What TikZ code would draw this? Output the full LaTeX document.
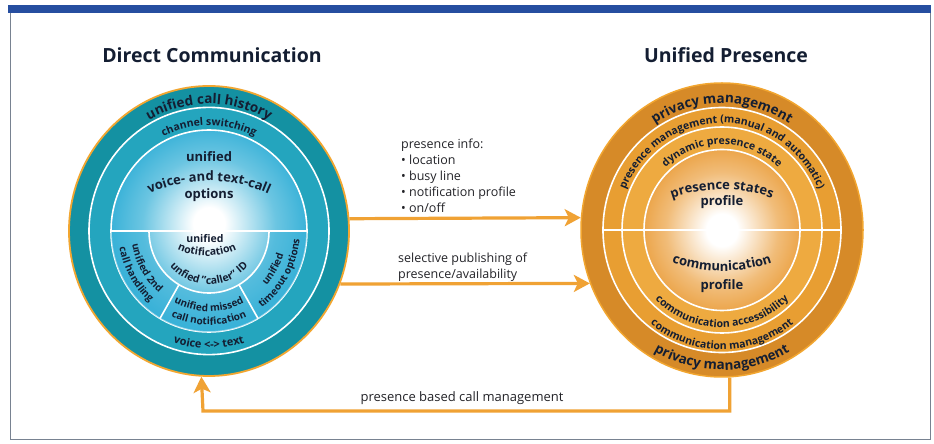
\documentclass[tikz,border=0pt]{standalone}
\usepackage{fontspec}
\setmainfont{Open Sans}
\usetikzlibrary{shapes.geometric,decorations.text,arrows.meta,calc}
\definecolor{navy}{RGB}{20,30,50}
\definecolor{tealA}{RGB}{20,145,162}
\definecolor{tealB}{RGB}{36,165,190}
\definecolor{cyanL}{RGB}{58,178,216}
\colorlet{cyanM}{cyanL!75!white}
\definecolor{orA}{RGB}{214,138,40}
\definecolor{orB}{RGB}{232,158,50}
\definecolor{orC}{RGB}{238,170,64}
\definecolor{orD}{RGB}{236,166,76}
\colorlet{orM}{orD!75!white}
\definecolor{orEdge}{RGB}{242,166,48}
\definecolor{arrowc}{RGB}{240,162,52}
\definecolor{bandblue}{RGB}{38,78,160}
\definecolor{framec}{RGB}{120,130,145}
\definecolor{midtext}{RGB}{35,35,40}
\pgfdeclareradialshading{glowL}{\pgfpoint{0bp}{2bp}}{color(0bp)=(white); color(4bp)=(white); color(17bp)=(cyanM); color(25bp)=(cyanL); color(50bp)=(cyanL)}
\pgfdeclareradialshading{glowR}{\pgfpoint{0bp}{0bp}}{color(0bp)=(white); color(5bp)=(white); color(18bp)=(orM); color(25bp)=(orD); color(50bp)=(orD)}
\newcommand{\fntS}{\fontsize{10}{12}\selectfont\bfseries}
\newcommand{\fntM}{\fontsize{10.5}{12}\selectfont\bfseries}
\newcommand{\fntL}{\fontsize{13}{15}\selectfont\bfseries}
\newcommand{\fntXL}{\fontsize{13.5}{15}\selectfont\bfseries}
\newcommand{\arcTxt}[7]{\path[shift={(#1)},decorate,decoration={text along path,text align=center,text color=navy,text={|#6|#7}}] (#2:#4 and #5) arc[start angle=#2,end angle=#3,x radius=#4,y radius=#5];}
\begin{document}
\begin{tikzpicture}[x=1pt,y=1pt,
  wline/.style={draw=white,line width=1.6pt},
  arr/.style={draw=arrowc,line width=3.2pt,-{Stealth[length=16pt,width=17pt,inset=4pt]}},
  title/.style={font=\fontsize{19.5}{22}\selectfont\bfseries,text=navy,inner sep=0pt},
  mid/.style={font=\fontsize{12.5}{16}\selectfont,text=midtext,align=left,inner sep=0pt},
  ctr/.style={font=\fntL,text=navy,inner sep=0pt,anchor=base},
  sml/.style={font=\fntM,text=navy,inner sep=0pt,anchor=base}]
\useasboundingbox (0,0) rectangle (934,444);
\fill[white] (0,0) rectangle (934,444);
% frame
\draw[framec,line width=1pt] (10,431) -- (10,4) -- (930,4) -- (930,431);
\fill[bandblue] (8,431) rectangle (931,439);
% titles
\node[title,anchor=base] (t1) at (212,381) {Direct Communication};
\node[title,anchor=base] (t2) at (726,381) {Unified Presence};
\coordinate (CL) at (209,213);
\coordinate (CR) at (722,214);
% ---------- left circle
\node[ellipse,draw=orEdge,line width=1.8pt,fill=tealA,minimum width=280pt,minimum height=290pt,inner sep=0pt] (L) at (CL) {};
\filldraw[fill=tealB,wline] (CL) ellipse[x radius=120,y radius=123.6];
\path[shade,shading=glowL,wline] (CL) ellipse[x radius=98,y radius=101];
\fill[cyanL,opacity=.45] ($(CL)+(180:98 and 101)$) arc[start angle=180,end angle=360,x radius=98,y radius=101] -- ($(CL)+(0:60 and 62)$) arc[start angle=0,end angle=-180,x radius=60,y radius=62] -- cycle;
\draw[wline] ($(CL)+(-98,0)$) -- ($(CL)+(98,0)$);
\draw[wline] ($(CL)+(180:60 and 62)$) arc[start angle=180,end angle=360,x radius=60,y radius=62];
\draw[wline] ($(CL)+(240:60 and 62)$) -- ($(CL)+(240:98 and 101)$);
\draw[wline] ($(CL)+(300:60 and 62)$) -- ($(CL)+(300:98 and 101)$);
\arcTxt{CL}{160}{20}{123}{127}{\fntXL}{unified call history}
\arcTxt{CL}{160}{20}{102.5}{105.5}{\fntM}{channel switching}
\arcTxt{CL}{200}{340}{114}{117.5}{\fontsize{11}{12}\selectfont\bfseries}{voice <-> text}
\coordinate (VT) at (209,119);
\arcTxt{VT}{125}{55}{144}{144}{\fntL}{voice- and text-call}
\node[ctr] (u1) at (209,282) {unified};
\node[ctr] (o1) at (209,245) {options};
\node[sml] (u2) at (205,201) {unified};
\coordinate (NT) at (207,258);
\arcTxt{NT}{235}{305}{70}{70}{\fntM}{notification}
\arcTxt{CL}{200}{340}{52}{53.5}{\fntM}{unfied "caller" ID}
\arcTxt{CL}{180}{240}{78}{80.5}{\fntS}{unified 2nd}
\arcTxt{CL}{180}{240}{91}{94}{\fntS}{call handling}
\arcTxt{CL}{240}{300}{78}{80.5}{\fntS}{unified missed}
\arcTxt{CL}{240}{300}{91}{94}{\fntS}{call notification}
\arcTxt{CL}{300}{360}{78}{80.5}{\fntS}{unified}
\arcTxt{CL}{300}{360}{91}{94}{\fntS}{timeout options}
% ---------- right circle
\node[ellipse,draw=orEdge,line width=1.5pt,fill=orA,minimum width=282pt,minimum height=294pt,inner sep=0pt] (R) at (CR) {};
\filldraw[fill=orB,wline] (CR) ellipse[x radius=119,y radius=122.5];
\filldraw[fill=orC,wline] (CR) ellipse[x radius=100,y radius=103];
\path[shade,shading=glowR,wline] (CR) ellipse[x radius=78,y radius=80.5];
\draw[wline] ($(CR)+(-119,0)$) -- ($(CR)+(119,0)$);
\arcTxt{CR}{165}{15}{123}{127}{\fntXL}{privacy management}
\arcTxt{CR}{168}{12}{104}{107}{\fntM}{presence management (manual and automatic)}
\arcTxt{CR}{160}{20}{83}{85.5}{\fntM}{dynamic presence state}
\coordinate (PS) at (722,104.5);
\arcTxt{PS}{115}{65}{150}{150}{\fntL}{presence states}
\node[ctr] (p1) at (722,238.5) {profile};
\coordinate (CM) at (722,323);
\arcTxt{CM}{245}{295}{150}{150}{\fntL}{communication}
\node[ctr] (p2) at (722,154) {profile};
\arcTxt{CR}{200}{340}{95}{97.5}{\fntM}{communication accessibility}
\arcTxt{CR}{200}{340}{116}{119.5}{\fntM}{communication management}
\arcTxt{CR}{200}{340}{136}{140}{\fntXL}{privacy management}
% ---------- connectors
\draw[arr] (L.5.33) -- (R.175.12);
\draw[arr] (L.-22.13) -- (R.202.39);
\coordinate (B) at (203,33);
\draw[arr] (R.-87.66) |- (B) -- (L.267.63);
% ---------- labels
\node[mid,anchor=north west] (info) at (401,305.5) {presence info:\\• location\\• busy line\\• notification profile\\• on/off};
\node[mid,anchor=north west] (sel) at (398,191) {selective publishing of\\presence/availability};
\node[mid,anchor=base,font=\fontsize{13}{16}\selectfont] (pb) at (462,42) {presence based call management};
\end{tikzpicture}
\end{document}
